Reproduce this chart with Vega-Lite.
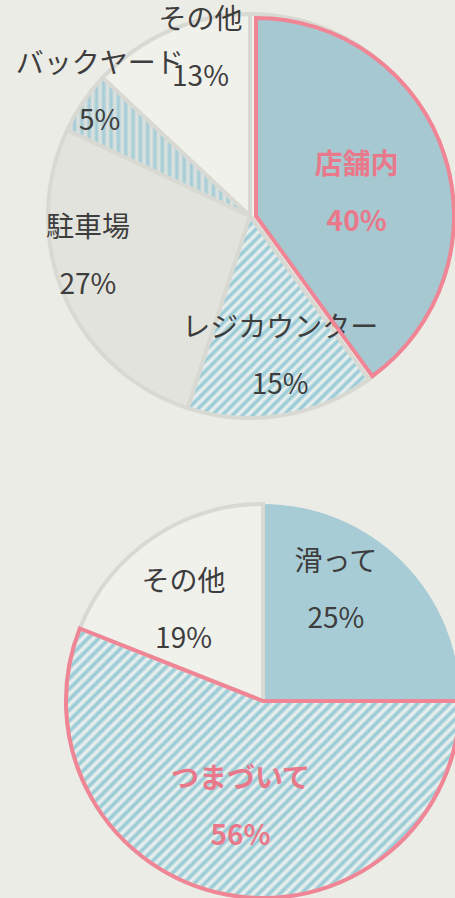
{
  "$schema": "https://vega.github.io/schema/vega-lite/v6.json",
  "background": "#ecece6",
  "padding": {"left": 15, "top": 0, "right": 0, "bottom": 0},
  "spacing": 72,
  "bounds": "flush",
  "config": {"view": {"stroke": null}, "text": {"font": "Noto Sans CJK JP"}},
  "vconcat": [
    {
      "width": 300,
      "height": 432,
      "data": {"values": [
        {"name": "店舗内", "pct": 40, "i": 1, "label": "店舗内\n40%"},
        {"name": "レジカウンター", "pct": 15, "i": 2, "label": "レジカウンター\n15%"},
        {"name": "駐車場", "pct": 27, "i": 3, "label": "駐車場\n27%"},
        {"name": "バックヤード", "pct": 5, "i": 4, "label": "バックヤード\n5%"},
        {"name": "その他", "pct": 13, "i": 5, "label": "その他\n13%"}
      ]},
      "layer": [
        {
          "mark": {"type": "arc", "outerRadius": 202, "stroke": "#d9d9d3", "strokeWidth": 4},
          "encoding": {
            "theta": {"field": "pct", "type": "quantitative", "stack": true},
            "order": {"field": "i", "type": "quantitative"},
            "fill": {
              "condition": [
                {"test": "datum.name==='店舗内'", "value": "#f1f1ec"},
                {"test": "datum.name==='駐車場'", "value": "#e3e3dd"},
                {"test": "datum.name==='レジカウンター'", "value": {"gradient": "linear", "x1": 0, "y1": 0, "x2": 1, "y2": 1.12, "stops": [
                  {"offset": 0, "color": "#8ec6d4"}, {"offset": 0.0125, "color": "#f4f4f0"}, {"offset": 0.025, "color": "#8ec6d4"}, {"offset": 0.0375, "color": "#f4f4f0"},
                  {"offset": 0.05, "color": "#8ec6d4"}, {"offset": 0.0625, "color": "#f4f4f0"}, {"offset": 0.075, "color": "#8ec6d4"}, {"offset": 0.0875, "color": "#f4f4f0"},
                  {"offset": 0.1, "color": "#8ec6d4"}, {"offset": 0.1125, "color": "#f4f4f0"}, {"offset": 0.125, "color": "#8ec6d4"}, {"offset": 0.1375, "color": "#f4f4f0"},
                  {"offset": 0.15, "color": "#8ec6d4"}, {"offset": 0.1625, "color": "#f4f4f0"}, {"offset": 0.175, "color": "#8ec6d4"}, {"offset": 0.1875, "color": "#f4f4f0"},
                  {"offset": 0.2, "color": "#8ec6d4"}, {"offset": 0.2125, "color": "#f4f4f0"}, {"offset": 0.225, "color": "#8ec6d4"}, {"offset": 0.2375, "color": "#f4f4f0"},
                  {"offset": 0.25, "color": "#8ec6d4"}, {"offset": 0.2625, "color": "#f4f4f0"}, {"offset": 0.275, "color": "#8ec6d4"}, {"offset": 0.2875, "color": "#f4f4f0"},
                  {"offset": 0.3, "color": "#8ec6d4"}, {"offset": 0.3125, "color": "#f4f4f0"}, {"offset": 0.325, "color": "#8ec6d4"}, {"offset": 0.3375, "color": "#f4f4f0"},
                  {"offset": 0.35, "color": "#8ec6d4"}, {"offset": 0.3625, "color": "#f4f4f0"}, {"offset": 0.375, "color": "#8ec6d4"}, {"offset": 0.3875, "color": "#f4f4f0"},
                  {"offset": 0.4, "color": "#8ec6d4"}, {"offset": 0.4125, "color": "#f4f4f0"}, {"offset": 0.425, "color": "#8ec6d4"}, {"offset": 0.4375, "color": "#f4f4f0"},
                  {"offset": 0.45, "color": "#8ec6d4"}, {"offset": 0.4625, "color": "#f4f4f0"}, {"offset": 0.475, "color": "#8ec6d4"}, {"offset": 0.4875, "color": "#f4f4f0"},
                  {"offset": 0.5, "color": "#8ec6d4"}, {"offset": 0.5125, "color": "#f4f4f0"}, {"offset": 0.525, "color": "#8ec6d4"}, {"offset": 0.5375, "color": "#f4f4f0"},
                  {"offset": 0.55, "color": "#8ec6d4"}, {"offset": 0.5625, "color": "#f4f4f0"}, {"offset": 0.575, "color": "#8ec6d4"}, {"offset": 0.5875, "color": "#f4f4f0"},
                  {"offset": 0.6, "color": "#8ec6d4"}, {"offset": 0.6125, "color": "#f4f4f0"}, {"offset": 0.625, "color": "#8ec6d4"}, {"offset": 0.6375, "color": "#f4f4f0"},
                  {"offset": 0.65, "color": "#8ec6d4"}, {"offset": 0.6625, "color": "#f4f4f0"}, {"offset": 0.675, "color": "#8ec6d4"}, {"offset": 0.6875, "color": "#f4f4f0"},
                  {"offset": 0.7, "color": "#8ec6d4"}, {"offset": 0.7125, "color": "#f4f4f0"}, {"offset": 0.725, "color": "#8ec6d4"}, {"offset": 0.7375, "color": "#f4f4f0"},
                  {"offset": 0.75, "color": "#8ec6d4"}, {"offset": 0.7625, "color": "#f4f4f0"}, {"offset": 0.775, "color": "#8ec6d4"}, {"offset": 0.7875, "color": "#f4f4f0"},
                  {"offset": 0.8, "color": "#8ec6d4"}, {"offset": 0.8125, "color": "#f4f4f0"}, {"offset": 0.825, "color": "#8ec6d4"}, {"offset": 0.8375, "color": "#f4f4f0"},
                  {"offset": 0.85, "color": "#8ec6d4"}, {"offset": 0.8625, "color": "#f4f4f0"}, {"offset": 0.875, "color": "#8ec6d4"}, {"offset": 0.8875, "color": "#f4f4f0"},
                  {"offset": 0.9, "color": "#8ec6d4"}, {"offset": 0.9125, "color": "#f4f4f0"}, {"offset": 0.925, "color": "#8ec6d4"}, {"offset": 0.9375, "color": "#f4f4f0"},
                  {"offset": 0.95, "color": "#8ec6d4"}, {"offset": 0.9625, "color": "#f4f4f0"}, {"offset": 0.975, "color": "#8ec6d4"}, {"offset": 0.9875, "color": "#f4f4f0"},
                  {"offset": 1, "color": "#8ec6d4"}
                ]}},
                {"test": "datum.name==='バックヤード'", "value": {"gradient": "linear", "x1": 0, "y1": 0, "x2": 1, "y2": 0, "stops": [
                  {"offset": 0, "color": "#a0cbd6"}, {"offset": 0.02, "color": "#e3e4df"}, {"offset": 0.04, "color": "#a0cbd6"}, {"offset": 0.06, "color": "#e3e4df"},
                  {"offset": 0.08, "color": "#a0cbd6"}, {"offset": 0.1, "color": "#e3e4df"}, {"offset": 0.12, "color": "#a0cbd6"}, {"offset": 0.14, "color": "#e3e4df"},
                  {"offset": 0.16, "color": "#a0cbd6"}, {"offset": 0.18, "color": "#e3e4df"}, {"offset": 0.2, "color": "#a0cbd6"}, {"offset": 0.22, "color": "#e3e4df"},
                  {"offset": 0.24, "color": "#a0cbd6"}, {"offset": 0.26, "color": "#e3e4df"}, {"offset": 0.28, "color": "#a0cbd6"}, {"offset": 0.3, "color": "#e3e4df"},
                  {"offset": 0.32, "color": "#a0cbd6"}, {"offset": 0.34, "color": "#e3e4df"}, {"offset": 0.36, "color": "#a0cbd6"}, {"offset": 0.38, "color": "#e3e4df"},
                  {"offset": 0.4, "color": "#a0cbd6"}, {"offset": 0.42, "color": "#e3e4df"}, {"offset": 0.44, "color": "#a0cbd6"}, {"offset": 0.46, "color": "#e3e4df"},
                  {"offset": 0.48, "color": "#a0cbd6"}, {"offset": 0.5, "color": "#e3e4df"}, {"offset": 0.52, "color": "#a0cbd6"}, {"offset": 0.54, "color": "#e3e4df"},
                  {"offset": 0.56, "color": "#a0cbd6"}, {"offset": 0.58, "color": "#e3e4df"}, {"offset": 0.6, "color": "#a0cbd6"}, {"offset": 0.62, "color": "#e3e4df"},
                  {"offset": 0.64, "color": "#a0cbd6"}, {"offset": 0.66, "color": "#e3e4df"}, {"offset": 0.68, "color": "#a0cbd6"}, {"offset": 0.7, "color": "#e3e4df"},
                  {"offset": 0.72, "color": "#a0cbd6"}, {"offset": 0.74, "color": "#e3e4df"}, {"offset": 0.76, "color": "#a0cbd6"}, {"offset": 0.78, "color": "#e3e4df"},
                  {"offset": 0.8, "color": "#a0cbd6"}, {"offset": 0.82, "color": "#e3e4df"}, {"offset": 0.84, "color": "#a0cbd6"}, {"offset": 0.86, "color": "#e3e4df"},
                  {"offset": 0.88, "color": "#a0cbd6"}, {"offset": 0.9, "color": "#e3e4df"}, {"offset": 0.92, "color": "#a0cbd6"}, {"offset": 0.94, "color": "#e3e4df"},
                  {"offset": 0.96, "color": "#a0cbd6"}, {"offset": 0.98, "color": "#e3e4df"}, {"offset": 1, "color": "#a0cbd6"}
                ]}}
              ],
              "value": "#f1f1ec"
            }
          }
        },
        {
          "mark": {"type": "arc", "outerRadius": 198, "xOffset": 6, "fill": "#a6c8d1", "strokeWidth": 0},
          "encoding": {
            "theta": {"field": "pct", "type": "quantitative", "stack": true},
            "order": {"field": "i", "type": "quantitative"},
            "fillOpacity": {"condition": {"test": "datum.name==='店舗内'", "value": 1}, "value": 0}
          }
        },
        {
          "mark": {
            "type": "text", "fontSize": 28, "lineBreak": "\n", "lineHeight": 57, "baseline": "middle", "align": "center",
            "radius": {"expr": "datum.name==='店舗内'?110:datum.name==='レジカウンター'?142:datum.name==='駐車場'?170:datum.name==='バックヤード'?195:175"},
            "dx": {"expr": "datum.name==='店舗内'?2:datum.name==='レジカウンター'?8:datum.name==='駐車場'?-6:datum.name==='バックヤード'?11:20"},
            "dy": {"expr": "datum.name==='店舗内'?-16:datum.name==='レジカウンター'?-27:datum.name==='駐車場'?-55:datum.name==='バックヤード'?-41:-34"},
            "fontWeight": {"expr": "datum.name==='店舗内'?'bold':'normal'"}
          },
          "encoding": {
            "theta": {"field": "pct", "type": "quantitative", "stack": true},
            "order": {"field": "i", "type": "quantitative"},
            "text": {"field": "label"},
            "color": {"condition": {"test": "datum.name==='店舗内'", "value": "#e8788a"}, "value": "#3d3d3d"}
          }
        },
        {
          "mark": {"type": "arc", "outerRadius": 198, "xOffset": 6, "stroke": "#ef8595", "strokeJoin": "miter", "fillOpacity": 0},
          "encoding": {
            "theta": {"field": "pct", "type": "quantitative", "stack": true},
            "order": {"field": "i", "type": "quantitative"},
            "strokeOpacity": {"condition": {"test": "datum.name==='店舗内'", "value": 1}, "value": 0},
            "strokeWidth": {"condition": {"test": "datum.name==='店舗内'", "value": 4}, "value": 0}
          }
        }
      ]
    },
    {
      "width": 326,
      "height": 394,
      "data": {"values": [
        {"name": "滑って", "pct": 25, "i": 1, "label": "滑って\n25%"},
        {"name": "つまづいて", "pct": 56, "i": 2, "label": "つまづいて\n56%"},
        {"name": "その他", "pct": 19, "i": 3, "label": "その他\n19%"}
      ]},
      "layer": [
        {
          "mark": {"type": "arc", "outerRadius": 197, "stroke": "#d9d9d3", "strokeWidth": 4},
          "encoding": {
            "theta": {"field": "pct", "type": "quantitative", "stack": true},
            "order": {"field": "i", "type": "quantitative"},
            "strokeOpacity": {"condition": {"test": "datum.name==='滑って'", "value": 0}, "value": 1},
            "fill": {
              "condition": [
                {"test": "datum.name==='滑って'", "value": "#a8ccd6"},
                {"test": "datum.name==='つまづいて'", "value": {"gradient": "linear", "x1": 0, "y1": 0, "x2": 1.15, "y2": 0.79, "stops": [
                  {"offset": 0, "color": "#8ec6d4"}, {"offset": 0.008, "color": "#f4f4f0"}, {"offset": 0.016, "color": "#8ec6d4"}, {"offset": 0.024, "color": "#f4f4f0"},
                  {"offset": 0.032, "color": "#8ec6d4"}, {"offset": 0.04, "color": "#f4f4f0"}, {"offset": 0.048, "color": "#8ec6d4"}, {"offset": 0.056, "color": "#f4f4f0"},
                  {"offset": 0.064, "color": "#8ec6d4"}, {"offset": 0.072, "color": "#f4f4f0"}, {"offset": 0.08, "color": "#8ec6d4"}, {"offset": 0.088, "color": "#f4f4f0"},
                  {"offset": 0.096, "color": "#8ec6d4"}, {"offset": 0.104, "color": "#f4f4f0"}, {"offset": 0.112, "color": "#8ec6d4"}, {"offset": 0.12, "color": "#f4f4f0"},
                  {"offset": 0.128, "color": "#8ec6d4"}, {"offset": 0.136, "color": "#f4f4f0"}, {"offset": 0.144, "color": "#8ec6d4"}, {"offset": 0.152, "color": "#f4f4f0"},
                  {"offset": 0.16, "color": "#8ec6d4"}, {"offset": 0.168, "color": "#f4f4f0"}, {"offset": 0.176, "color": "#8ec6d4"}, {"offset": 0.184, "color": "#f4f4f0"},
                  {"offset": 0.192, "color": "#8ec6d4"}, {"offset": 0.2, "color": "#f4f4f0"}, {"offset": 0.208, "color": "#8ec6d4"}, {"offset": 0.216, "color": "#f4f4f0"},
                  {"offset": 0.224, "color": "#8ec6d4"}, {"offset": 0.232, "color": "#f4f4f0"}, {"offset": 0.24, "color": "#8ec6d4"}, {"offset": 0.248, "color": "#f4f4f0"},
                  {"offset": 0.256, "color": "#8ec6d4"}, {"offset": 0.264, "color": "#f4f4f0"}, {"offset": 0.272, "color": "#8ec6d4"}, {"offset": 0.28, "color": "#f4f4f0"},
                  {"offset": 0.288, "color": "#8ec6d4"}, {"offset": 0.296, "color": "#f4f4f0"}, {"offset": 0.304, "color": "#8ec6d4"}, {"offset": 0.312, "color": "#f4f4f0"},
                  {"offset": 0.32, "color": "#8ec6d4"}, {"offset": 0.328, "color": "#f4f4f0"}, {"offset": 0.336, "color": "#8ec6d4"}, {"offset": 0.344, "color": "#f4f4f0"},
                  {"offset": 0.352, "color": "#8ec6d4"}, {"offset": 0.36, "color": "#f4f4f0"}, {"offset": 0.368, "color": "#8ec6d4"}, {"offset": 0.376, "color": "#f4f4f0"},
                  {"offset": 0.384, "color": "#8ec6d4"}, {"offset": 0.392, "color": "#f4f4f0"}, {"offset": 0.4, "color": "#8ec6d4"}, {"offset": 0.408, "color": "#f4f4f0"},
                  {"offset": 0.416, "color": "#8ec6d4"}, {"offset": 0.424, "color": "#f4f4f0"}, {"offset": 0.432, "color": "#8ec6d4"}, {"offset": 0.44, "color": "#f4f4f0"},
                  {"offset": 0.448, "color": "#8ec6d4"}, {"offset": 0.456, "color": "#f4f4f0"}, {"offset": 0.464, "color": "#8ec6d4"}, {"offset": 0.472, "color": "#f4f4f0"},
                  {"offset": 0.48, "color": "#8ec6d4"}, {"offset": 0.488, "color": "#f4f4f0"}, {"offset": 0.496, "color": "#8ec6d4"}, {"offset": 0.504, "color": "#f4f4f0"},
                  {"offset": 0.512, "color": "#8ec6d4"}, {"offset": 0.52, "color": "#f4f4f0"}, {"offset": 0.528, "color": "#8ec6d4"}, {"offset": 0.536, "color": "#f4f4f0"},
                  {"offset": 0.544, "color": "#8ec6d4"}, {"offset": 0.552, "color": "#f4f4f0"}, {"offset": 0.56, "color": "#8ec6d4"}, {"offset": 0.568, "color": "#f4f4f0"},
                  {"offset": 0.576, "color": "#8ec6d4"}, {"offset": 0.584, "color": "#f4f4f0"}, {"offset": 0.592, "color": "#8ec6d4"}, {"offset": 0.6, "color": "#f4f4f0"},
                  {"offset": 0.608, "color": "#8ec6d4"}, {"offset": 0.616, "color": "#f4f4f0"}, {"offset": 0.624, "color": "#8ec6d4"}, {"offset": 0.632, "color": "#f4f4f0"},
                  {"offset": 0.64, "color": "#8ec6d4"}, {"offset": 0.648, "color": "#f4f4f0"}, {"offset": 0.656, "color": "#8ec6d4"}, {"offset": 0.664, "color": "#f4f4f0"},
                  {"offset": 0.672, "color": "#8ec6d4"}, {"offset": 0.68, "color": "#f4f4f0"}, {"offset": 0.688, "color": "#8ec6d4"}, {"offset": 0.696, "color": "#f4f4f0"},
                  {"offset": 0.704, "color": "#8ec6d4"}, {"offset": 0.712, "color": "#f4f4f0"}, {"offset": 0.72, "color": "#8ec6d4"}, {"offset": 0.728, "color": "#f4f4f0"},
                  {"offset": 0.736, "color": "#8ec6d4"}, {"offset": 0.744, "color": "#f4f4f0"}, {"offset": 0.752, "color": "#8ec6d4"}, {"offset": 0.76, "color": "#f4f4f0"},
                  {"offset": 0.768, "color": "#8ec6d4"}, {"offset": 0.776, "color": "#f4f4f0"}, {"offset": 0.784, "color": "#8ec6d4"}, {"offset": 0.792, "color": "#f4f4f0"},
                  {"offset": 0.8, "color": "#8ec6d4"}, {"offset": 0.808, "color": "#f4f4f0"}, {"offset": 0.816, "color": "#8ec6d4"}, {"offset": 0.824, "color": "#f4f4f0"},
                  {"offset": 0.832, "color": "#8ec6d4"}, {"offset": 0.84, "color": "#f4f4f0"}, {"offset": 0.848, "color": "#8ec6d4"}, {"offset": 0.856, "color": "#f4f4f0"},
                  {"offset": 0.864, "color": "#8ec6d4"}, {"offset": 0.872, "color": "#f4f4f0"}, {"offset": 0.88, "color": "#8ec6d4"}, {"offset": 0.888, "color": "#f4f4f0"},
                  {"offset": 0.896, "color": "#8ec6d4"}, {"offset": 0.904, "color": "#f4f4f0"}, {"offset": 0.912, "color": "#8ec6d4"}, {"offset": 0.92, "color": "#f4f4f0"},
                  {"offset": 0.928, "color": "#8ec6d4"}, {"offset": 0.936, "color": "#f4f4f0"}, {"offset": 0.944, "color": "#8ec6d4"}, {"offset": 0.952, "color": "#f4f4f0"},
                  {"offset": 0.96, "color": "#8ec6d4"}, {"offset": 0.968, "color": "#f4f4f0"}, {"offset": 0.976, "color": "#8ec6d4"}, {"offset": 0.984, "color": "#f4f4f0"},
                  {"offset": 0.992, "color": "#8ec6d4"}, {"offset": 1, "color": "#f4f4f0"}
                ]}}
              ],
              "value": "#f1f1ec"
            }
          }
        },
        {
          "mark": {"type": "arc", "outerRadius": 197, "stroke": "#ef8595", "strokeJoin": "miter", "fillOpacity": 0},
          "encoding": {
            "theta": {"field": "pct", "type": "quantitative", "stack": true},
            "order": {"field": "i", "type": "quantitative"},
            "strokeOpacity": {"condition": {"test": "datum.name==='つまづいて'", "value": 1}, "value": 0},
            "strokeWidth": {"condition": {"test": "datum.name==='つまづいて'", "value": 4}, "value": 0}
          }
        },
        {
          "mark": {
            "type": "text", "fontSize": 28, "lineBreak": "\n", "lineHeight": 57, "baseline": "middle", "align": "center",
            "radius": 120,
            "dx": {"expr": "datum.name==='滑って'?-12:datum.name==='その他'?-12:0"},
            "dy": {"expr": "datum.name==='滑って'?-53:datum.name==='その他'?-19:-39"},
            "fontWeight": {"expr": "datum.name==='つまづいて'?'bold':'normal'"}
          },
          "encoding": {
            "theta": {"field": "pct", "type": "quantitative", "stack": true},
            "order": {"field": "i", "type": "quantitative"},
            "text": {"field": "label"},
            "color": {"condition": {"test": "datum.name==='つまづいて'", "value": "#e8788a"}, "value": "#3d3d3d"}
          }
        }
      ]
    }
  ]
}
